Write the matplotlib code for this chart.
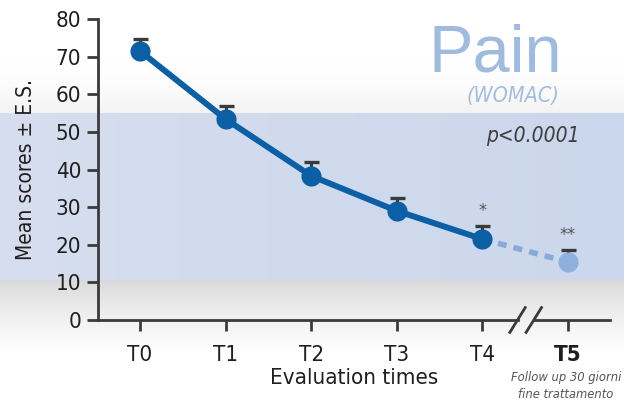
import numpy as np
import matplotlib
matplotlib.use('Agg')
from matplotlib import pyplot as plt

# WOMAC pain scores per evaluation time
times = ['T0', 'T1', 'T2', 'T3', 'T4', 'T5']
means = [71.5, 53.4, 38.3, 29.0, 21.5, 15.4]
errors = [3.2, 3.5, 3.7, 3.4, 3.5, 3.2]
stars = {4: '*', 5: '**'}

plt.rcParams['font.family'] = ['DejaVu Sans']
plt.rcParams['font.stretch'] = 'condensed'

W, H = 624, 403
fig = plt.figure(figsize=(W / 100, H / 100), dpi=100)

# background: white top, blue band, grey fade below
bg = np.ones((H, W, 3))
band_top, band_bot = 113, 280
f = np.linspace(0, 1, W)[:, None]
left = np.array([214, 222, 239]) / 255
right = np.array([203, 215, 236]) / 255
for r in range(H):
    if r < band_top:
        t = max(0, (r - 60) / (band_top - 60))
        bg[r, :, :] = 1 - 0.05 * t ** 2
    elif r < band_bot:
        bg[r, :, :] = left * (1 - f) + right * f
    else:
        t = min(1, (r - band_bot) / 70)
        bg[r, :, :] = 0.85 + 0.15 * t ** 0.8
bg_ax = fig.add_axes([0, 0, 1, 1], zorder=-1)
bg_ax.imshow(bg, extent=(0, W, H, 0), aspect='auto', interpolation='bilinear')
bg_ax.axis('off')

ax = fig.add_axes([98 / W, 1 - 320 / H, (610 - 98) / W, (320 - 19) / H])
ax.set_facecolor('none')
x = np.arange(len(times))
ax.set_xlim(-0.49, 5.49)
ax.set_ylim(0, 80)

dark = '#3a3a3a'
blue = '#0b5fa5'
light = '#86a9d8'

# error bars (upper only)
ax.errorbar(x, means, yerr=[np.zeros(len(errors)), errors], fmt='none',
            ecolor=dark, elinewidth=2.2, capsize=5.4, capthick=2.4, zorder=2)
ax.plot(x[4:], means[4:], color=light, lw=4, dashes=(1.6, 1.3), zorder=3)
ax.plot(x[:5], means[:5], color=blue, lw=4.3, zorder=4)
ax.plot(x[:5], means[:5], 'o', color=blue, ms=14.5, mec='none', zorder=5)
ax.plot(x[5], means[5], 'o', color='#8eb0dc', ms=14.5, mec='none', zorder=5)

for i, s in stars.items():
    ax.text(x[i], means[i] + errors[i] + 1.5, s, ha='center', va='bottom',
            fontsize=13, color='#555555')

# axes styling
for side in ['top', 'right', 'bottom']:
    ax.spines[side].set_visible(False)
ax.spines['left'].set_color(dark)
ax.spines['left'].set_linewidth(2)
ax.set_yticks(range(0, 81, 10))
ax.set_xticks(x)
ax.set_xticklabels(times)
ax.get_xticklabels()[5].set_fontweight('bold')
ax.tick_params(axis='y', length=8, width=2, color=dark, labelsize=16, pad=4, labelcolor='#1e1e1e')
ax.tick_params(axis='x', length=8, width=2, color=dark, labelsize=16, pad=10, labelcolor='#1e1e1e')

# broken x axis
ax.plot([-0.49, 4.41], [0, 0], color=dark, lw=2, clip_on=False, zorder=6)
ax.plot([4.60, 5.49], [0, 0], color=dark, lw=2, clip_on=False, zorder=6)
for bx in [4.41, 4.60]:
    ax.plot([bx - 0.09, bx + 0.09], [-3.3, 3.3], color=dark, lw=2, clip_on=False, zorder=6)

ax.set_xlabel('Evaluation times', fontsize=16, color='#1e1e1e', labelpad=2)
ax.set_ylabel('Mean scores ± E.S.', fontsize=15, color='#1e1e1e', labelpad=14)

# titles and annotations
fig.text(495 / W, 1 - 72 / H, 'Pain', ha='center', va='baseline', fontsize=48,
         color='#9fbbe0', family='Liberation Sans', stretch='normal')
fig.text(513 / W, 1 - 96 / H, '(WOMAC)', ha='center', va='center', fontsize=15.5,
         color='#a3bde0', style='italic')
fig.text(533 / W, 1 - 136 / H, 'p<0.0001', ha='center', va='center', fontsize=15,
         color='#3d3d3d', style='italic')
fig.text(566 / W, 1 - 377 / H, 'Follow up 30 giorni', ha='center', va='center',
         fontsize=9.3, color='#555555', style='italic')
fig.text(566 / W, 1 - 395 / H, 'fine trattamento', ha='center', va='center',
         fontsize=9.3, color='#555555', style='italic')

fig.savefig('out.png', dpi=100)
